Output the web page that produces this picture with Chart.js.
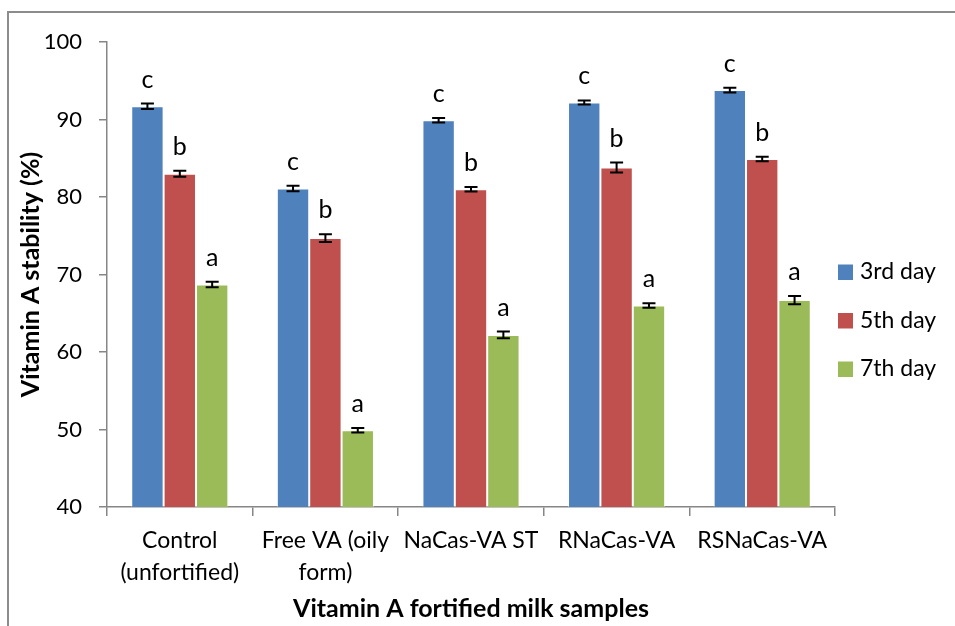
<!DOCTYPE html>
<html>
<head>
<meta charset="utf-8">
<script src="https://cdn.jsdelivr.net/npm/chart.js@4.4.0/dist/chart.umd.min.js"></script>
<style>
  html, body { margin: 0; padding: 0; background: #fff; }
  #wrap { position: relative; width: 955px; height: 626px; overflow: hidden; }
  #frame { position: absolute; left: 7px; top: 11px; width: 1000px; height: 700px;
           border-left: 2px solid #8c8c8c; border-top: 2px solid #8c8c8c; }
  canvas { position: absolute; left: 0; top: 0; }
</style>
</head>
<body>
<div id="wrap">
  <div id="frame"></div>
  <canvas id="stabilityChart" width="955" height="626"></canvas>
</div>
<script>
// milk samples on the x axis
const samples = [['Control', '(unfortified)'], ['Free VA (oily', 'form)'], 'NaCas-VA ST', 'RNaCas-VA', 'RSNaCas-VA'];

// vitamin A stability (%) per storage day
const day3 = [91.7, 81.1, 89.9, 92.2, 93.8];
const day5 = [83.0, 74.7, 81.0, 83.8, 84.9];
const day7 = [68.7, 49.9, 62.2, 66.0, 66.7];

// standard deviations
const err3 = [0.35, 0.35, 0.28, 0.26, 0.30];
const err5 = [0.40, 0.50, 0.30, 0.65, 0.28];
const err7 = [0.35, 0.30, 0.43, 0.28, 0.54];

// significance letters
const letters3 = ['c', 'c', 'c', 'c', 'c'];
const letters5 = ['b', 'b', 'b', 'b', 'b'];
const letters7 = ['a', 'a', 'a', 'a', 'a'];

const yTicks = [40, 50, 60, 70, 80, 90, 100];

const FONT = 'Lato, "Liberation Sans", sans-serif';
const AXIS_GREY = '#868686';

// error bars + letters drawn on top of the bars
const errorBars = {
  id: 'errorBars',
  afterDatasetsDraw(chart) {
    const ctx = chart.ctx;
    const y = chart.scales.y;
    ctx.save();
    chart.data.datasets.forEach((ds, di) => {
      const meta = chart.getDatasetMeta(di);
      meta.data.forEach((bar, i) => {
        const v = ds.data[i], e = ds.errors[i];
        const top = y.getPixelForValue(v + e);
        const bot = y.getPixelForValue(v - e);
        ctx.strokeStyle = '#000';
        ctx.lineWidth = 2;
        ctx.beginPath();
        ctx.moveTo(bar.x, top); ctx.lineTo(bar.x, bot);
        ctx.moveTo(bar.x - 6.5, top); ctx.lineTo(bar.x + 6.5, top);
        ctx.moveTo(bar.x - 6.5, bot); ctx.lineTo(bar.x + 6.5, bot);
        ctx.stroke();

        ctx.fillStyle = '#000';
        ctx.font = '25px ' + FONT;
        ctx.textAlign = 'center';
        ctx.textBaseline = 'alphabetic';
        ctx.fillText(ds.letters[i], bar.x, top - 16);
      });
    });
    ctx.restore();
  }
};

// legend on the right
const sideLegend = {
  id: 'sideLegend',
  afterDraw(chart) {
    const ctx = chart.ctx;
    ctx.save();
    chart.data.datasets.forEach((ds, di) => {
      const cy = 272 + di * 48.5;
      ctx.fillStyle = ds.backgroundColor;
      ctx.fillRect(838, cy - 7.5, 15, 15.5);
      ctx.fillStyle = '#000';
      ctx.font = '23px ' + FONT;
      ctx.textAlign = 'left';
      ctx.textBaseline = 'middle';
      ctx.fillText(ds.label, 860, cy);
    });
    ctx.restore();
  }
};

const ctx = document.getElementById('stabilityChart').getContext('2d');
new Chart(ctx, {
  type: 'bar',
  data: {
    labels: samples,
    datasets: [
      { label: '3rd day', data: day3, errors: err3, letters: letters3, backgroundColor: '#4F81BD' },
      { label: '5th day', data: day5, errors: err5, letters: letters5, backgroundColor: '#C0504D' },
      { label: '7th day', data: day7, errors: err7, letters: letters7, backgroundColor: '#9BBB59' }
    ]
  },
  options: {
    responsive: false,
    animation: false,
    layout: { padding: { top: 42, right: 120, bottom: 0, left: 0 } },
    datasets: {
      bar: {
        categoryPercentage: 0.667,
        barPercentage: 1.0,
        borderWidth: 1,
        borderColor: 'rgba(255,255,255,0.45)'
      }
    },
    plugins: {
      legend: { display: false },
      tooltip: { enabled: false }
    },
    scales: {
      x: {
        grid: { display: true, offset: true, drawOnChartArea: false, drawTicks: true,
                tickLength: 9, color: AXIS_GREY, lineWidth: 1.5 },
        border: { display: true, color: AXIS_GREY, width: 1.5 },
        ticks: { font: { family: FONT, size: 23, lineHeight: 1.37 }, color: '#000',
                 padding: 9, maxRotation: 0, autoSkip: false },
        title: { display: true, text: 'Vitamin A fortified milk samples', color: '#000',
                 font: { family: FONT, size: 25, weight: 'bold' },
                 padding: { top: 0, bottom: 2 } },
        afterFit(scale) { scale.height = 119; }
      },
      y: {
        min: 40,
        max: 100,
        afterBuildTicks(scale) { scale.ticks = yTicks.map(v => ({ value: v })); },
        grid: { display: true, drawOnChartArea: false, drawTicks: true,
                tickLength: 8, color: AXIS_GREY, lineWidth: 1.5 },
        border: { display: true, color: AXIS_GREY, width: 1.5 },
        ticks: { font: { family: FONT, size: 22 }, color: '#000', padding: 17 },
        title: { display: true, text: 'Vitamin A stability (%)', color: '#000',
                 font: { family: FONT, size: 25, weight: 'bold' },
                 padding: { top: 16, bottom: 0 } },
        afterFit(scale) { scale.width = 107; }
      }
    }
  },
  plugins: [errorBars, sideLegend]
});
</script>
</body>
</html>
